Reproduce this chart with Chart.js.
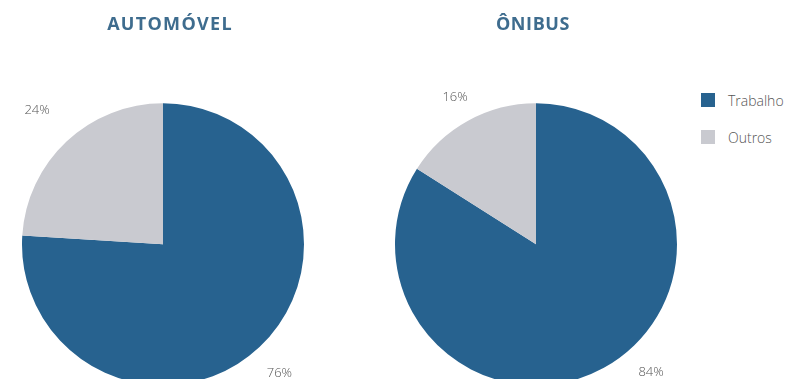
<!DOCTYPE html>
<html lang="pt">
<head>
<meta charset="UTF-8">
<title>Motivo da viagem</title>
<script src="https://cdn.jsdelivr.net/npm/chart.js"></script>
<style>
  html, body { margin: 0; padding: 0; width: 786px; height: 379px; overflow: hidden; background: #fff; }
  .box { position: absolute; top: 0; height: 400px; }
  #carBox { left: 0; width: 340px; }
  #busBox { left: 380px; width: 300px; }
  #legend { position: absolute; left: 701px; top: 93px; font-family: "Open Sans", sans-serif; font-weight: 300; font-size: 14px; color: #555; }
  #legend div { display: flex; align-items: center; height: 14px; margin-bottom: 23px; }
  #legend span { display: inline-block; width: 14px; height: 14px; margin-right: 13px; }
</style>
</head>
<body>
<div class="box" id="carBox"><canvas id="car"></canvas></div>
<div class="box" id="busBox"><canvas id="bus"></canvas></div>
<div id="legend"></div>
<script>
const categories = ['Trabalho', 'Outros'];
const carShare = [76, 24];
const busShare = [84, 16];
const colors = ['#27628f', '#c9cad0'];

// spaced-out capitals for the title, nudged sideways off the pie's axis
const titleShift = {
  id: 'titleShift',
  beforeDraw(chart, args, opts) {
    const ctx = chart.ctx;
    ctx.save();
    ctx.letterSpacing = opts.spacing;
    ctx.translate(opts.dx, 0);
  },
  beforeDatasetsDraw(chart) {
    chart.ctx.restore();
  }
};

// percentage labels sitting just outside the rim
const outerLabels = {
  id: 'outerLabels',
  afterDatasetsDraw(chart, args, opts) {
    const ctx = chart.ctx;
    const meta = chart.getDatasetMeta(0);
    const values = chart.data.datasets[0].data;
    ctx.save();
    ctx.font = '300 13px "Open Sans", sans-serif';
    ctx.fillStyle = '#555';
    ctx.textAlign = 'center';
    ctx.textBaseline = 'middle';
    meta.data.forEach((arc, i) => {
      const fixed = opts.angles[i];
      const a = fixed == null ? (arc.startAngle + arc.endAngle) / 2 : (fixed - 90) * Math.PI / 180;
      const d = arc.outerRadius + opts.offset[i];
      ctx.fillText(values[i] + '%', arc.x + Math.cos(a) * d, arc.y + Math.sin(a) * d);
    });
    ctx.restore();
  }
};

function pie(id, title, values, padding, titleOpts, labelAngles, labelOffset) {
  return new Chart(document.getElementById(id), {
    type: 'pie',
    data: {
      labels: categories,
      datasets: [{ data: values, backgroundColor: colors, borderWidth: 0 }]
    },
    options: {
      responsive: true,
      maintainAspectRatio: false,
      animation: false,
      layout: { padding: padding },
      plugins: {
        legend: { display: false },
        tooltip: { enabled: false },
        title: {
          display: true,
          text: title,
          color: '#3e6c8e',
          font: { family: '"Open Sans", sans-serif', size: 18, weight: '700' },
          padding: { top: 14, bottom: 67 }
        },
        titleShift: titleOpts,
        outerLabels: { angles: labelAngles, offset: labelOffset }
      }
    },
    plugins: [titleShift, outerLabels]
  });
}

pie('car', 'AUTOMÓVEL', carShare, { left: 22, right: 36, top: 0, bottom: 14 },
  { dx: 7, spacing: '1.3px' }, [138, null], [33, 43]);
pie('bus', 'ÔNIBUS', busShare, { left: 15, right: 3, top: 0, bottom: 14 },
  { dx: -3, spacing: '0.6px' }, [138, null], [31, 27]);

const legend = document.getElementById('legend');
categories.forEach((c, i) => {
  const row = document.createElement('div');
  row.innerHTML = '<span style="background:' + colors[i] + '"></span>' + c;
  legend.appendChild(row);
});
</script>
</body>
</html>
